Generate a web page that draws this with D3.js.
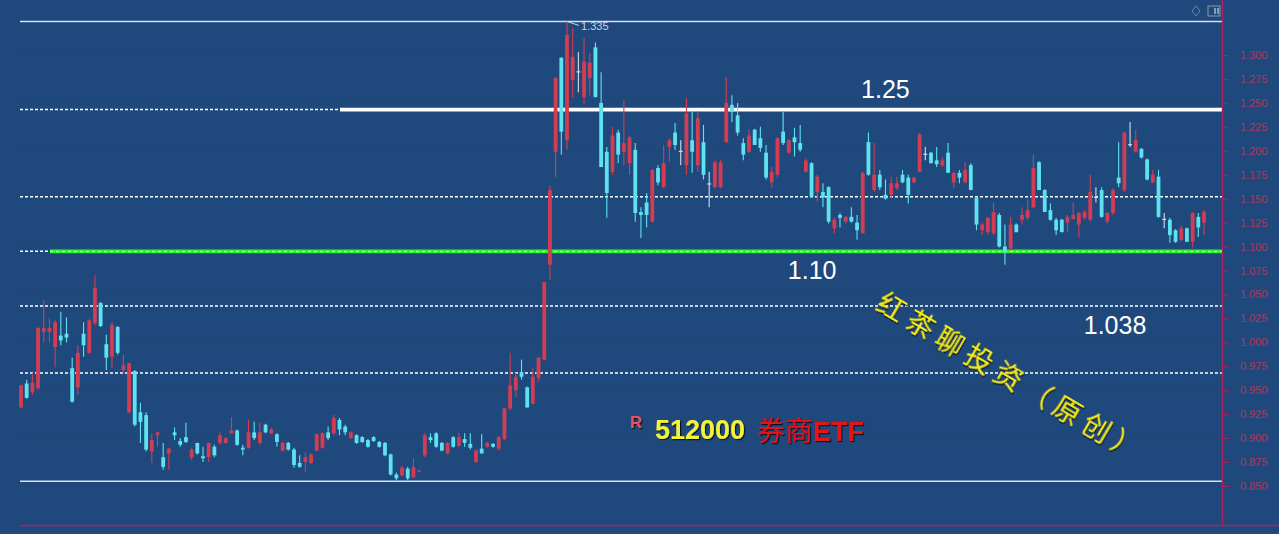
<!DOCTYPE html>
<html><head><meta charset="utf-8">
<script src="https://cdn.jsdelivr.net/npm/d3@7"></script>
<style>html,body{margin:0;padding:0;background:#1f497d;overflow:hidden}</style>
</head><body><svg id="c" width="1279" height="534"></svg>
<script>
// daily candles: [open, high, low, close]
const ohlc = [
[0.932,0.956,0.931,0.955],[0.957,0.961,0.941,0.942],[0.948,0.968,0.945,0.958],[0.952,1.016,0.950,1.015],
[1.011,1.044,1.000,1.015],[1.011,1.025,1.000,1.015],[0.995,1.023,0.974,1.021],[1.007,1.032,0.997,1.002],
[1.009,1.026,1.000,1.005],[0.973,0.984,0.937,0.938],[0.953,0.997,0.945,0.989],[1.009,1.021,0.985,0.997],
[0.989,1.024,0.988,1.023],[1.020,1.070,1.018,1.057],[1.041,1.042,1.016,1.017],[0.998,1.008,0.971,0.984],
[0.985,1.021,0.973,1.018],[1.016,1.017,0.987,0.989],[0.971,0.987,0.968,0.976],[0.927,0.979,0.926,0.978],
[0.970,0.971,0.912,0.914],[0.927,0.937,0.895,0.917],[0.924,0.927,0.886,0.888],[0.886,0.905,0.874,0.898],
[0.903,0.907,0.891,0.906],[0.880,0.895,0.867,0.870],[0.884,0.890,0.867,0.889],[0.906,0.911,0.898,0.903],
[0.897,0.900,0.891,0.893],[0.901,0.916,0.895,0.896],[0.880,0.890,0.877,0.888],[0.895,0.895,0.883,0.884],
[0.881,0.891,0.875,0.879],[0.880,0.895,0.875,0.895],[0.891,0.893,0.880,0.882],[0.895,0.906,0.893,0.903],
[0.895,0.901,0.894,0.900],[0.905,0.922,0.905,0.908],[0.908,0.909,0.892,0.893],[0.890,0.893,0.882,0.888],
[0.890,0.919,0.889,0.906],[0.906,0.917,0.898,0.900],[0.895,0.916,0.893,0.906],[0.914,0.915,0.905,0.906],
[0.905,0.911,0.904,0.909],[0.904,0.905,0.891,0.896],[0.887,0.896,0.886,0.895],[0.895,0.896,0.887,0.888],
[0.888,0.890,0.869,0.872],[0.874,0.882,0.869,0.870],[0.875,0.885,0.865,0.880],[0.874,0.884,0.873,0.883],
[0.887,0.905,0.886,0.904],[0.890,0.906,0.889,0.905],[0.906,0.912,0.898,0.900],[0.905,0.924,0.903,0.921],
[0.919,0.921,0.903,0.909],[0.912,0.914,0.903,0.906],[0.900,0.907,0.899,0.906],[0.903,0.904,0.894,0.895],
[0.901,0.902,0.895,0.896],[0.898,0.899,0.890,0.891],[0.901,0.902,0.896,0.897],[0.896,0.897,0.890,0.891],
[0.895,0.896,0.881,0.882],[0.883,0.884,0.861,0.862],[0.862,0.864,0.856,0.858],[0.861,0.871,0.860,0.869],
[0.868,0.870,0.856,0.858],[0.859,0.879,0.858,0.870],[0.865,0.867,0.864,0.866],[0.882,0.905,0.880,0.903],
[0.901,0.905,0.895,0.898],[0.905,0.906,0.890,0.891],[0.895,0.896,0.886,0.887],[0.884,0.896,0.883,0.895],
[0.901,0.902,0.890,0.891],[0.892,0.905,0.891,0.901],[0.899,0.905,0.891,0.895],[0.894,0.905,0.888,0.890],
[0.875,0.888,0.874,0.887],[0.889,0.904,0.884,0.884],[0.891,0.896,0.890,0.895],[0.894,0.895,0.890,0.891],
[0.889,0.902,0.887,0.901],[0.899,0.932,0.898,0.931],[0.931,0.989,0.929,0.955],[0.950,0.968,0.943,0.964],
[0.969,0.982,0.961,0.964],[0.953,0.954,0.932,0.932],[0.936,0.973,0.935,0.964],[0.963,0.984,0.959,0.984],
[0.982,1.063,0.981,1.063],[1.081,1.164,1.065,1.159],[1.199,1.277,1.172,1.276],[1.297,1.298,1.196,1.220],
[1.211,1.335,1.201,1.321],[1.274,1.328,1.255,1.298],[1.283,1.303,1.261,1.283],[1.256,1.318,1.248,1.293],
[1.276,1.302,1.258,1.292],[1.308,1.313,1.256,1.256],[1.250,1.282,1.183,1.183],[1.199,1.204,1.130,1.156],
[1.178,1.225,1.175,1.216],[1.219,1.222,1.187,1.196],[1.199,1.253,1.185,1.208],[1.187,1.216,1.175,1.214],
[1.201,1.208,1.126,1.135],[1.136,1.141,1.109,1.133],[1.146,1.156,1.120,1.133],[1.126,1.181,1.125,1.180],
[1.182,1.185,1.164,1.167],[1.162,1.206,1.161,1.187],[1.204,1.213,1.188,1.211],[1.219,1.229,1.201,1.206],
[1.200,1.211,1.185,1.200],[1.185,1.255,1.175,1.239],[1.211,1.241,1.177,1.199],[1.185,1.241,1.178,1.234],
[1.209,1.227,1.170,1.175],[1.166,1.178,1.141,1.166],[1.162,1.190,1.161,1.188],[1.162,1.190,1.161,1.188],
[1.209,1.277,1.208,1.250],[1.248,1.258,1.230,1.241],[1.237,1.250,1.216,1.219],[1.208,1.213,1.190,1.196],
[1.199,1.222,1.198,1.216],[1.222,1.223,1.206,1.206],[1.213,1.225,1.199,1.203],[1.198,1.206,1.170,1.172],
[1.167,1.183,1.161,1.178],[1.175,1.214,1.172,1.213],[1.220,1.241,1.206,1.208],[1.198,1.212,1.197,1.211],
[1.214,1.224,1.194,1.209],[1.208,1.227,1.199,1.201],[1.178,1.192,1.177,1.190],[1.187,1.188,1.151,1.152],
[1.157,1.175,1.147,1.173],[1.157,1.166,1.141,1.151],[1.162,1.163,1.124,1.126],[1.119,1.130,1.114,1.128],
[1.133,1.135,1.120,1.130],[1.126,1.132,1.124,1.131],[1.131,1.141,1.125,1.126],[1.125,1.133,1.107,1.117],
[1.114,1.178,1.113,1.177],[1.209,1.219,1.174,1.175],[1.159,1.208,1.157,1.175],[1.175,1.180,1.159,1.162],
[1.154,1.170,1.149,1.150],[1.154,1.173,1.151,1.166],[1.161,1.173,1.159,1.166],[1.175,1.180,1.166,1.167],
[1.172,1.175,1.145,1.154],[1.167,1.173,1.166,1.172],[1.178,1.219,1.178,1.217],[1.197,1.204,1.190,1.197],
[1.198,1.199,1.187,1.187],[1.190,1.204,1.183,1.186],[1.185,1.193,1.183,1.190],[1.198,1.208,1.177,1.177],
[1.167,1.178,1.161,1.177],[1.177,1.180,1.166,1.172],[1.167,1.188,1.166,1.180],[1.185,1.187,1.159,1.159],
[1.151,1.152,1.117,1.123],[1.117,1.125,1.112,1.123],[1.115,1.131,1.112,1.130],[1.114,1.146,1.112,1.136],
[1.133,1.135,1.099,1.100],[1.100,1.123,1.081,1.094],[1.098,1.131,1.096,1.123],[1.123,1.124,1.115,1.115],
[1.128,1.141,1.123,1.133],[1.130,1.149,1.128,1.138],[1.141,1.196,1.140,1.182],[1.188,1.189,1.159,1.159],
[1.159,1.160,1.136,1.136],[1.138,1.145,1.127,1.128],[1.128,1.130,1.112,1.117],[1.128,1.129,1.115,1.115],
[1.125,1.133,1.115,1.131],[1.129,1.146,1.128,1.133],[1.123,1.136,1.110,1.135],[1.130,1.138,1.128,1.136],
[1.128,1.175,1.126,1.157],[1.152,1.162,1.146,1.152],[1.159,1.162,1.130,1.131],[1.126,1.136,1.124,1.135],
[1.135,1.161,1.133,1.159],[1.172,1.209,1.162,1.166],[1.159,1.220,1.157,1.219],[1.207,1.230,1.204,1.207],
[1.199,1.222,1.198,1.211],[1.202,1.203,1.192,1.193],[1.191,1.192,1.169,1.170],[1.167,1.180,1.166,1.175],
[1.173,1.180,1.130,1.131],[1.129,1.135,1.119,1.129],[1.128,1.130,1.104,1.112],[1.117,1.118,1.104,1.105],
[1.107,1.122,1.105,1.119],[1.119,1.120,1.105,1.105],[1.105,1.136,1.099,1.135],[1.131,1.135,1.110,1.120],
[1.125,1.138,1.112,1.136]
];
const tickValues = [0.850,0.875,0.900,0.925,0.950,0.975,1.000,1.025,1.050,1.075,1.100,1.125,1.150,1.175,1.200,1.225,1.250,1.275,1.300];
// golden-section levels between the low (0.855) and the high (1.335)
const goldenLevels = [0.855,0.968,1.038,1.095,1.152,1.243,1.335];
const supportLevel = 1.095;      // green line
const resistanceLevel = 1.243;   // thick white line
const levelNotes = [
  {text:"1.25",  value:1.243, at:0.72},
  {text:"1.10",  value:1.095, at:0.659},
  {text:"1.038", value:1.038, at:0.911}
];
const titleCode = "512000";
const titleName = "券商";
const titleSuffix = "ETF";
const watermark = "红茶聊投资（原创）";

const W = 1279, H = 534;
const svg = d3.select("#c");
const defs = svg.append("defs");
const f = defs.append("filter").attr("id","sh").attr("x","-20%").attr("y","-20%").attr("width","140%").attr("height","140%");
f.append("feDropShadow").attr("dx",1.2).attr("dy",1.2).attr("stdDeviation",0.6).attr("flood-color","#000").attr("flood-opacity",0.75);

svg.append("rect").attr("width",W).attr("height",H).attr("fill","#1f497d");

const y = d3.scaleLinear().domain([0.85,1.30]).range([486,55]);
const x = d3.scaleLinear().domain([0, ohlc.length-1]).range([21,1204]);
const plotL = 20, plotR = 1222;
const bw = 3.8;

// faint grid
svg.append("g").selectAll("line").data(tickValues.filter((d,i)=>i%2===0)).join("line")
  .attr("x1",plotL).attr("x2",plotR).attr("y1",d=>Math.round(y(d))+0.5).attr("y2",d=>Math.round(y(d))+0.5)
  .attr("stroke","#2a4373").attr("stroke-width",1).attr("opacity",0.4);

// golden levels
const lv = svg.append("g");
goldenLevels.forEach((v,i)=>{
  const solid = (i===0 || i===goldenLevels.length-1);
  lv.append("line").attr("x1",plotL).attr("x2",plotR).attr("y1",y(v)).attr("y2",y(v))
    .attr("stroke", solid ? "#d8def5" : "#ffffff").attr("stroke-width", solid?1.6:1.5)
    .attr("stroke-dasharray", solid ? null : "3,2");
});
// support (green) and resistance (white) overlays
lv.append("line").attr("x1",50).attr("x2",plotR).attr("y1",y(supportLevel)).attr("y2",y(supportLevel))
  .attr("stroke","#2cf52c").attr("stroke-width",3.6);
lv.append("line").attr("x1",50).attr("x2",plotR).attr("y1",y(supportLevel)).attr("y2",y(supportLevel))
  .attr("stroke","#e8ffe0").attr("stroke-width",1).attr("stroke-dasharray","3,3");
lv.append("line").attr("x1",340).attr("x2",plotR).attr("y1",y(resistanceLevel)).attr("y2",y(resistanceLevel))
  .attr("stroke","#ffffff").attr("stroke-width",3.6);

// candles
const upC = "#d23d52", dnC = "#5ee3ee", flatC = "#d6dde8";
const col = d => d[3]>d[0] ? upC : (d[3]<d[0] ? dnC : flatC);
const cg = svg.append("g");
cg.selectAll("line.w").data(ohlc).join("line").attr("class","w")
  .attr("x1",(d,i)=>x(i)).attr("x2",(d,i)=>x(i))
  .attr("y1",d=>y(d[1])).attr("y2",d=>y(d[2]))
  .attr("stroke",col).attr("stroke-width",1.1);
cg.selectAll("rect.b").data(ohlc).join("rect").attr("class","b")
  .attr("x",(d,i)=>x(i)-bw/2).attr("width",bw)
  .attr("y",d=>y(Math.max(d[0],d[3])))
  .attr("height",d=>Math.max(1.2, Math.abs(y(d[0])-y(d[3]))))
  .attr("fill",col);

// high annotation
const hiIdx = d3.maxIndex(ohlc, d=>d[1]);
const hx = x(hiIdx), hy = y(ohlc[hiIdx][1]);
svg.append("line").attr("x1",hx).attr("y1",hy).attr("x2",hx+12).attr("y2",hy+4)
  .attr("stroke","#c9d0de").attr("stroke-width",1);
svg.append("text").attr("x",hx+14).attr("y",hy+9).text(d3.format(".3f")(ohlc[hiIdx][1]))
  .attr("fill","#c9d0de").attr("font-family","Liberation Sans, Arial, sans-serif").attr("font-size",11);

// right axis
const axG = svg.append("g").attr("transform",`translate(${plotR},0)`);
axG.call(d3.axisRight(y).tickValues(tickValues).tickFormat(d3.format(".3f")).tickSize(7).tickPadding(11));
axG.select(".domain").remove();
axG.selectAll(".tick line").attr("stroke","#b0205e");
axG.selectAll(".tick text").attr("fill","#ab3a5c").attr("font-family","Liberation Sans, Arial, sans-serif").attr("font-size",11);
svg.append("line").attr("x1",plotR+0.5).attr("x2",plotR+0.5).attr("y1",0).attr("y2",526).attr("stroke","#b0205e").attr("stroke-width",1.4);
svg.append("line").attr("x1",plotL).attr("x2",W).attr("y1",525.5).attr("y2",525.5).attr("stroke","#b0205e").attr("stroke-width",1.4);

// level note texts
svg.append("g").selectAll("text").data(levelNotes).join("text")
  .attr("x",d=>plotL+(plotR-plotL)*d.at).attr("y",d=>y(d.value)+ (d.value===resistanceLevel? -12 : 28))
  .attr("text-anchor","middle").text(d=>d.text)
  .attr("fill","#ffffff").attr("font-family","Liberation Sans, Arial, sans-serif").attr("font-size",25);

// title
const t = svg.append("g").attr("filter","url(#sh)");
t.append("text").attr("x",630).attr("y",428).text("R").attr("fill","#e8505e")
  .attr("font-family","Liberation Sans, Arial, sans-serif").attr("font-weight","bold").attr("font-size",17);
t.append("text").attr("x",655).attr("y",439).text(titleCode).attr("fill","#f4f23a")
  .attr("font-family","Liberation Sans, Arial, sans-serif").attr("font-weight","bold").attr("font-size",27);
const tn = t.append("text").attr("x",757).attr("y",441).attr("fill","#e0121e").attr("font-size",28);
tn.append("tspan").text(titleName).attr("font-family","Noto Sans CJK SC, sans-serif");
tn.append("tspan").text(titleSuffix).attr("font-family","Liberation Sans, Arial, sans-serif").attr("font-weight","bold").attr("font-size",27);

// watermark
svg.append("text").attr("transform","translate(874,309) rotate(30.5)").text(watermark)
  .attr("fill","#f6ea1c").attr("font-family","Noto Sans CJK SC, sans-serif").attr("font-size",28)
  .attr("letter-spacing",6).attr("filter","url(#sh)");

// top-right icons
svg.append("path").attr("d","M1196,6 L1200,11 L1196,16 L1192,11 Z").attr("fill","none").attr("stroke","#6f86aa").attr("stroke-width",1);
svg.append("rect").attr("x",1208).attr("y",6).attr("width",12).attr("height",10).attr("fill","none").attr("stroke","#8c9ab0").attr("stroke-width",1);
svg.append("rect").attr("x",1214).attr("y",8).attr("width",2).attr("height",6).attr("fill","#8c9ab0");
svg.append("rect").attr("x",1217).attr("y",8).attr("width",2).attr("height",6).attr("fill","#8c9ab0");
</script></body></html>
